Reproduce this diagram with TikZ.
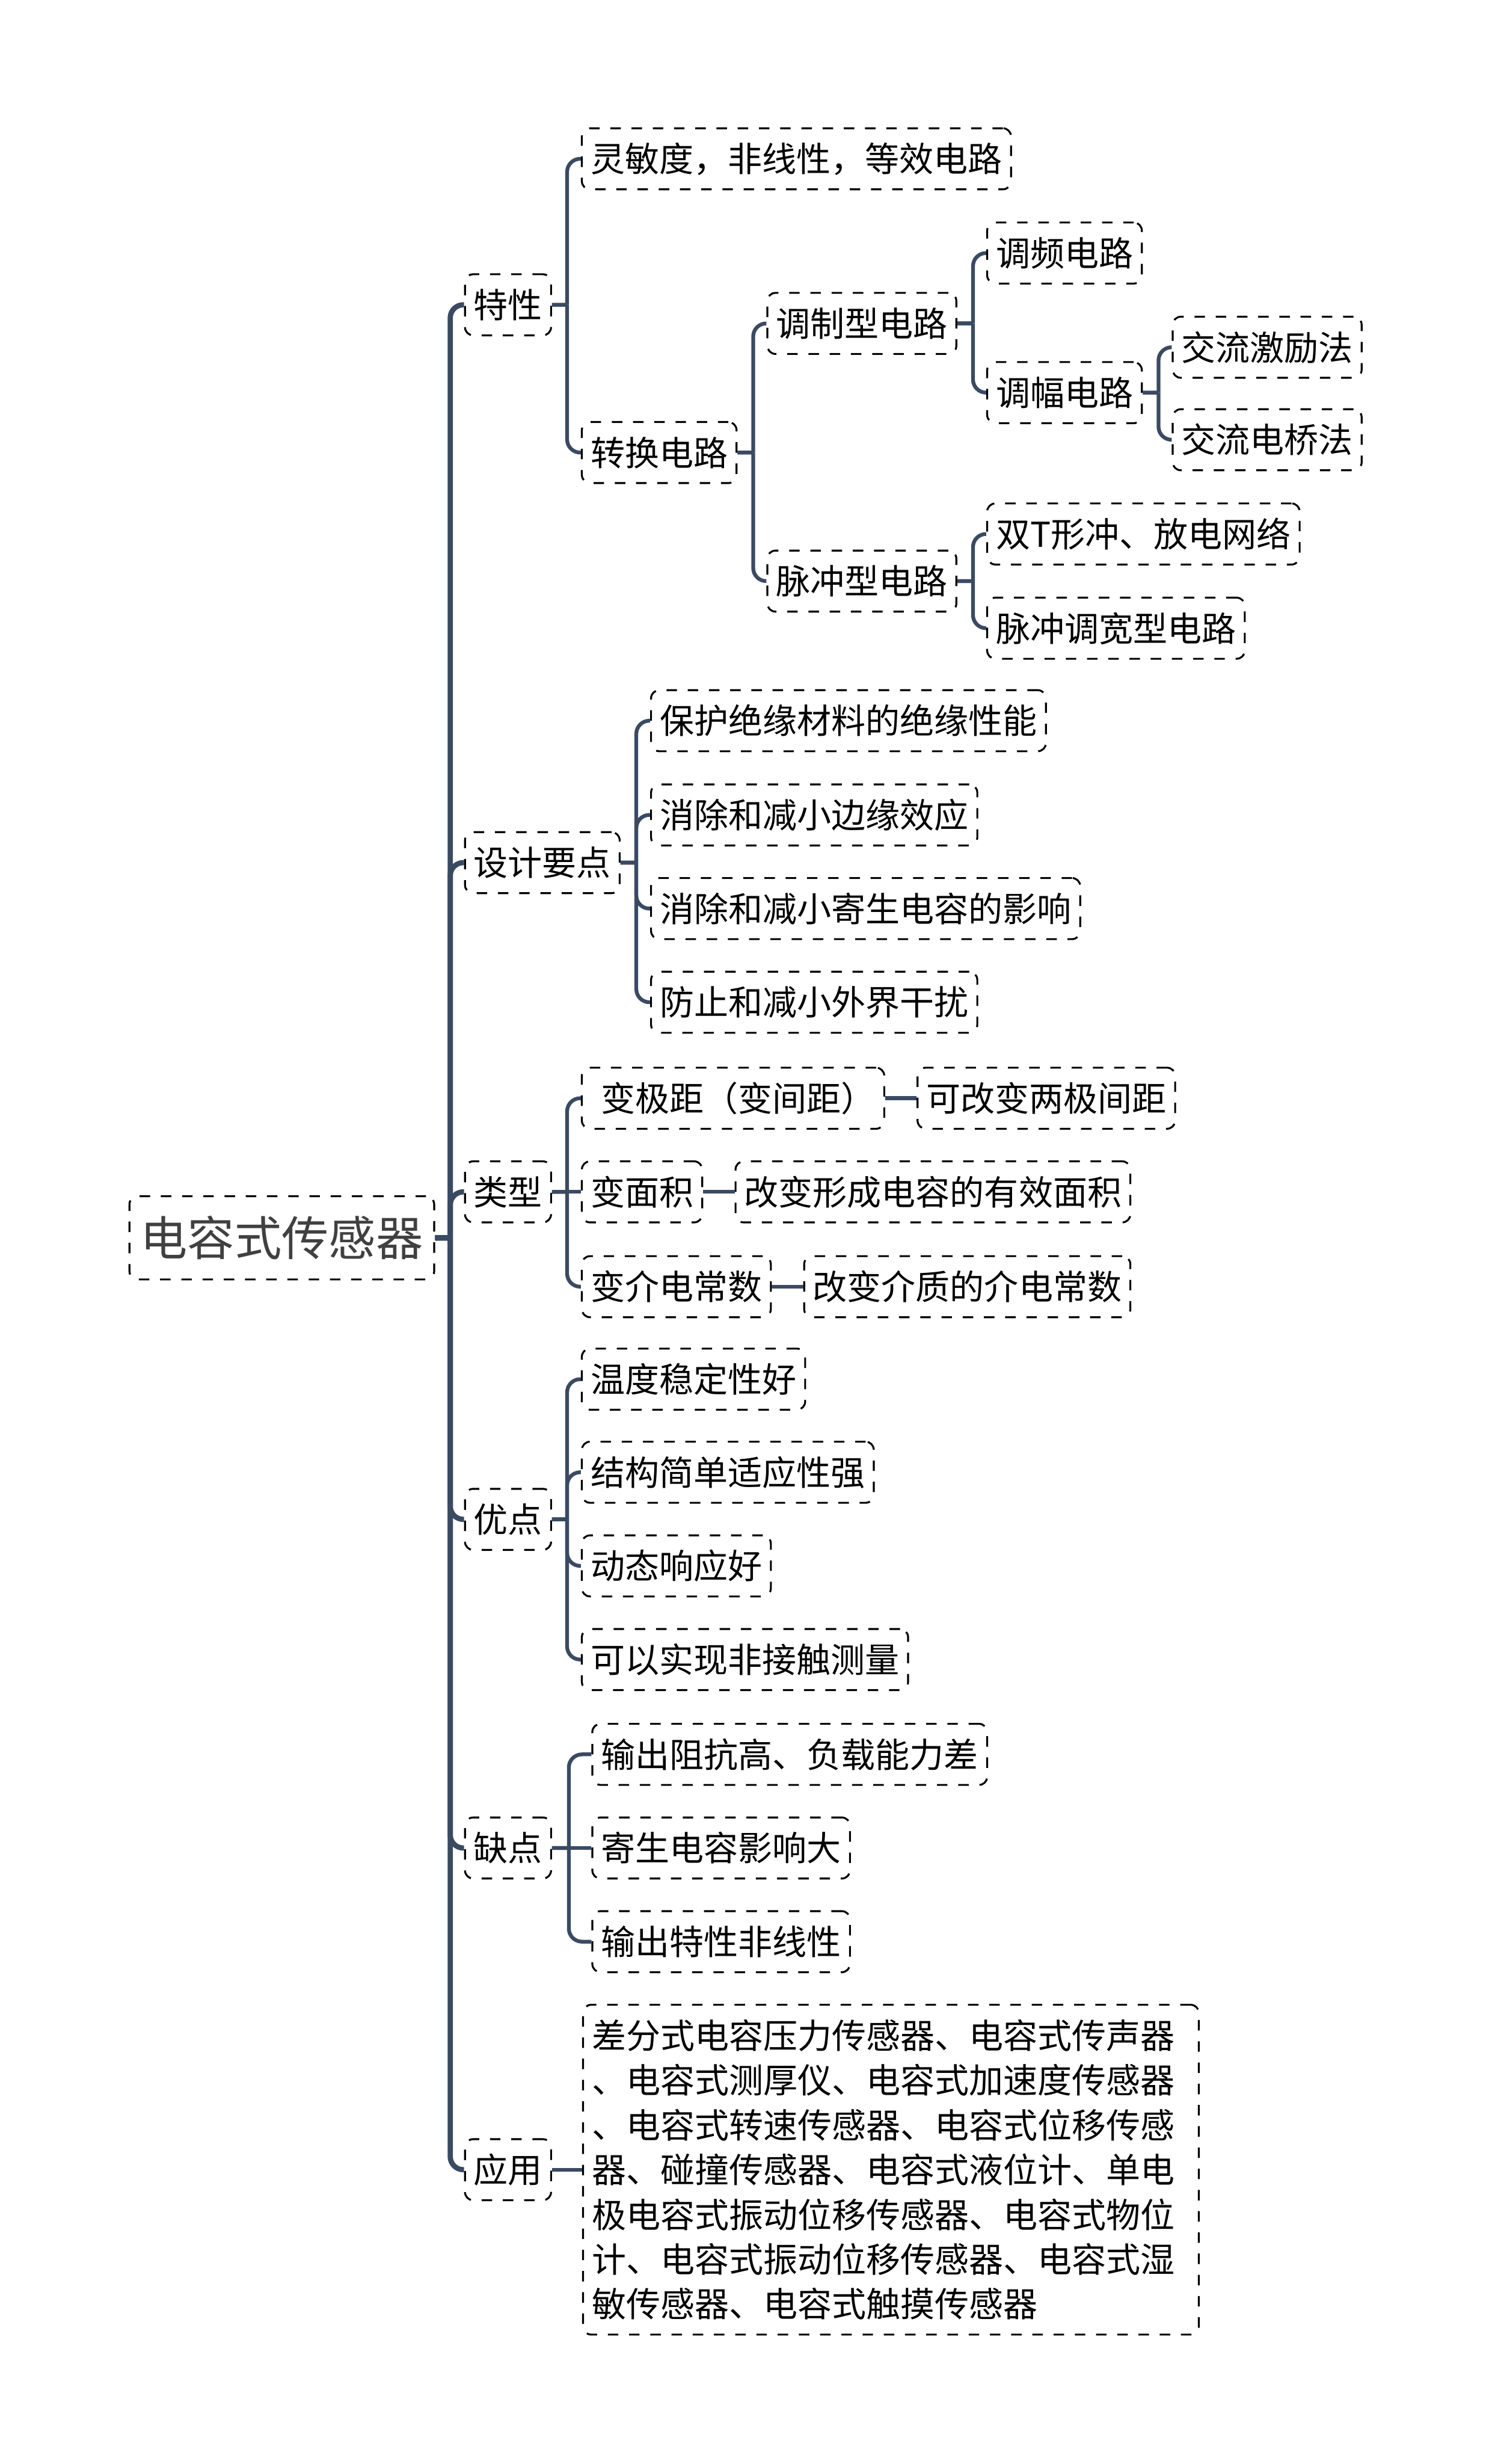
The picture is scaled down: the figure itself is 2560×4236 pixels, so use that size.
\documentclass[tikz,border=0pt]{standalone}
\usepackage{fontspec}
\setmainfont{Noto Sans CJK SC}
\usetikzlibrary{positioning}
\definecolor{linkblue}{HTML}{3A4A62}
\definecolor{rootgray}{HTML}{404040}
\tikzset{
  boxbase/.style={draw=black, line width=0.65pt, dash pattern=on 3.6pt off 3.7pt,
    rounded corners=2.8pt, inner xsep=3pt, anchor=west},
  box/.style={boxbase, inner ysep=0pt, minimum height=21pt, text height=10.4pt,
    text depth=1.4pt, font=\fontsize{11.8}{13}\selectfont},
  rootbox/.style={boxbase, inner xsep=3.8pt, inner ysep=0pt, minimum height=28.6pt,
    text height=14.2pt, text depth=2pt, font=\fontsize{16.2}{19}\selectfont, text=rootgray},
  parabox/.style={boxbase, align=left, text width=205.8pt, inner ysep=4.5pt,
    minimum height=113.4pt, font=\fontsize{11.8}{15.4}\selectfont},
  link/.style={draw=linkblue, line width=1.3pt, rounded corners=4.5pt},
  trunk/.style={link, line width=1.8pt},
}
\begin{document}
\begin{tikzpicture}[x=0.2pt,y=-0.2pt]
  \useasboundingbox (0,0) rectangle (2560,4236);
  % root and first level
  \node[rootbox] (root) at (221,2128) {电容式传感器};
  \node[box] (tx) at (798,524) {特性};
  \node[box] (sj) at (798,1483) {设计要点};
  \node[box] (lx) at (798,2049) {类型};
  \node[box] (yd) at (798,2612) {优点};
  \node[box] (qd) at (798,3177) {缺点\hspace{2.6pt}};
  \node[box] (yy) at (798,3730) {应用};
  % 特性
  \node[box] (lmd) at (999,273) {灵敏度，非线性，等效电路};
  \node[box] (zh) at (999,778) {转换电路};
  \node[box] (tzx) at (1318,556) {调制型电路};
  \node[box] (mcx) at (1318,999) {脉冲型电路};
  \node[box] (tp) at (1696,435) {调频电路};
  \node[box] (tf) at (1696,675) {调幅电路};
  \node[box] (jl) at (2015,597) {交流激励法};
  \node[box] (dq) at (2015,756) {交流电桥法};
  \node[box] (sT) at (1696,918) {双T形冲、放电网络};
  \node[box] (mk) at (1696,1080) {脉冲调宽型电路};
  % 设计要点
  \node[box] (bh) at (1118,1239) {保护绝缘材料的绝缘性能};
  \node[box] (by) at (1118,1401) {消除和减小边缘效应};
  \node[box] (js) at (1118,1562) {消除和减小寄生电容的影响};
  \node[box] (gr) at (1118,1723) {防止和减小外界干扰};
  % 类型
  \node[box] (bjj) at (999,1888) {\hspace{3.6pt}变极距（变间距）};
  \node[box, right=10.8pt of bjj] (bjjx) {可改变两极间距};
  \node[box] (bmj) at (999,2049) {变面积};
  \node[box, right=10.8pt of bmj] (bmjx) {改变形成电容的有效面积};
  \node[box] (bjd) at (999,2212) {变介电常数};
  \node[box, right=10.8pt of bjd] (bjdx) {改变介质的介电常数};
  % 优点
  \node[box] (wd) at (999,2371) {温度稳定性好};
  \node[box] (jg) at (999,2531) {结构简单适应性强};
  \node[box] (dt) at (999,2692) {动态响应好};
  \node[box] (fjc) at (999,2853) {可以实现非接触测量};
  % 缺点
  \node[box] (sc) at (1017,3016) {输出阻抗高、负载能力差};
  \node[box] (jsd) at (1017,3177) {寄生电容影响大};
  \node[box] (fxx) at (1017,3338) {输出特性非线性};
  % 应用
  \node[parabox] (yyt) at (1001,3730) {差分式电容压力传感器、电容式传声器\\
    、电容式测厚仪、电容式加速度传感器\\
    、电容式转速传感器、电容式位移传感\\
    器、碰撞传感器、电容式液位计、单电\\
    极电容式振动位移传感器、电容式物位\\
    计、电容式振动位移传感器、电容式湿\\
    敏传感器、电容式触摸传感器};

  % links
  \foreach \c in {tx,sj,lx,yd,qd,yy}
    \draw[trunk] (root.east) -- ++(26,0) ++(0,0) |- (\c.west);
  \foreach \c in {lmd,zh}
    \draw[link] (tx.east) -- ++(26,0) ++(0,0) |- (\c.west);
  \foreach \c in {tzx,mcx}
    \draw[link] (zh.east) -- ++(27,0) ++(0,0) |- (\c.west);
  \foreach \c in {tp,tf}
    \draw[link] (tzx.east) -- ++(27,0) ++(0,0) |- (\c.west);
  \foreach \c in {jl,dq}
    \draw[link] (tf.east) -- ++(27,0) ++(0,0) |- (\c.west);
  \foreach \c in {sT,mk}
    \draw[link] (mcx.east) -- ++(27,0) ++(0,0) |- (\c.west);
  \foreach \c in {bh,by,js,gr}
    \draw[link] (sj.east) -- ++(27,0) ++(0,0) |- (\c.west);
  \foreach \c in {bjj,bjd}
    \draw[link] (lx.east) -- ++(26,0) ++(0,0) |- (\c.west);
  \draw[link] (lx.east) -- (bmj.west);
  \draw[link] (bjj.east) -- (bjjx.west);
  \draw[link] (bmj.east) -- (bmjx.west);
  \draw[link] (bjd.east) -- (bjdx.west);
  \foreach \c in {wd,jg,dt,fjc}
    \draw[link] (yd.east) -- ++(26,0) ++(0,0) |- (\c.west);
  \foreach \c in {sc,fxx}
    \draw[link] (qd.east) -- ++(29,0) ++(0,0) |- (\c.west);
  \draw[link] (qd.east) -- (jsd.west);
  \draw[link] (yy.east) -- (yyt.west);
\end{tikzpicture}
\end{document}
